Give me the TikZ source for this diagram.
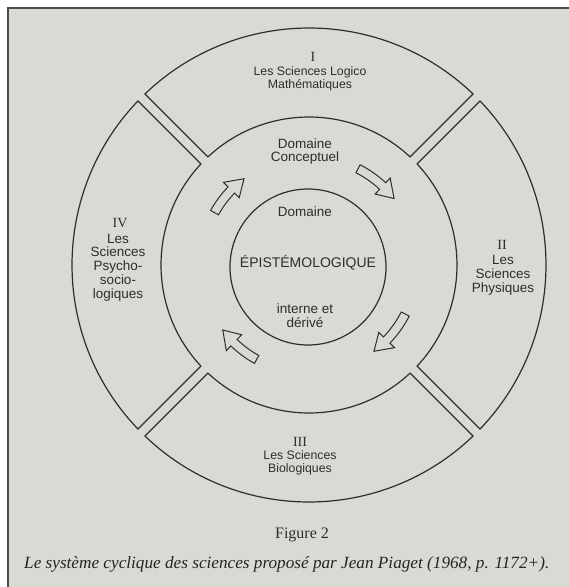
\documentclass[tikz,border=0pt]{standalone}
\usepackage{fontspec}
\setmainfont{Liberation Serif}
\newfontfamily\hv{Liberation Sans}
\definecolor{page}{RGB}{218,218,213}
\definecolor{ink}{RGB}{45,45,45}
\newcommand\cycarrow[2]{%
  \pgfmathsetmacro\hA{#2+9}%
  \draw[cyc] (#1:112.5) arc[start angle=#1, end angle=\hA, radius=112.5] -- (\hA:119) -- (#2:108)
    -- (\hA:97) -- (\hA:103.5) arc[start angle=\hA, end angle=#1, radius=103.5] -- cycle;}
\begin{document}
\begin{tikzpicture}[x=1pt,y=1pt,
  seg/.style={draw=ink, line width=1.2pt, line join=miter},
  cyc/.style={draw=ink, line width=1pt, fill=page, line join=miter},
  lab/.style={font=\hv\fontsize{13.5}{13.8}\selectfont, text=ink, align=center, inner sep=0pt},
  labs/.style={font=\hv\fontsize{12.3}{13.2}\selectfont, text=ink, align=center, inner sep=0pt},
  num/.style={font=\fontsize{14}{14}\selectfont, text=ink, inner sep=0pt},
]
\useasboundingbox (0,0) rectangle (569,-587);
\fill[white] (0,0) rectangle (569,-587);
\fill[page] (8,-8) rectangle (569,-587);
\draw[ink!85, line width=1.2pt] (569,-8) -- (8,-8) -- (8,-587);

\begin{scope}[shift={(309,-265)}]
  \foreach \a/\b in {45/135, 135/225, 225/315, -45/45} {
    \pgfmathsetmacro\ao{\a+asin(5/237)}
    \pgfmathsetmacro\bo{\b-asin(5/237)}
    \pgfmathsetmacro\ai{\a+asin(5/148)}
    \pgfmathsetmacro\bi{\b-asin(5/148)}
    \draw[seg] (\ao:237) arc[start angle=\ao, end angle=\bo, radius=237]
      -- (\bi:148) arc[start angle=\bi, end angle=\ai, radius=148] -- cycle;
  }
  \cycarrow{63}{38}
  \cycarrow{-27}{-53}
  \cycarrow{241}{217}
  \cycarrow{151}{127}
\end{scope}
\draw[seg] (308,-267) circle[radius=78];

\node[num] (n1) at (313,-57) {I};
\node[labs] (t1) at (310,-78.5) {Les Sciences Logico\\Mathématiques};
\node[num] (n2) at (502,-245) {II};
\node[lab] (t2) at (503,-275.5) {Les\\Sciences\\Physiques};
\node[num] (n3) at (300,-442) {III};
\node[labs] (t3) at (300,-463) {Les Sciences\\Biologiques};
\node[num] (n4) at (120,-223) {IV};
\node[lab] (t4) at (118,-267.5) {Les\\Sciences\\Psycho-\\socio-\\logiques};

\node[lab] (dc) at (305,-151.5) {Domaine\\Conceptuel};
\node[lab] (d1) at (305,-212) {Domaine};
\node[lab, font=\hv\fontsize{14}{14}\selectfont] (ep) at (308,-263) {ÉPISTÉMOLOGIQUE};
\node[lab] (d2) at (305,-316) {interne et\\dérivé};

\node[font=\fontsize{16}{18}\selectfont, text=ink, inner sep=0pt] (fig) at (302,-535) {Figure 2};
\node[font=\itshape\fontsize{17.2}{18}\selectfont, text=ink!80!black, inner sep=0pt, anchor=west] (cap) at (24,-564)
  {Le système cyclique des sciences proposé par Jean Piaget (1968, p. 1172+).};
\end{tikzpicture}
\end{document}
